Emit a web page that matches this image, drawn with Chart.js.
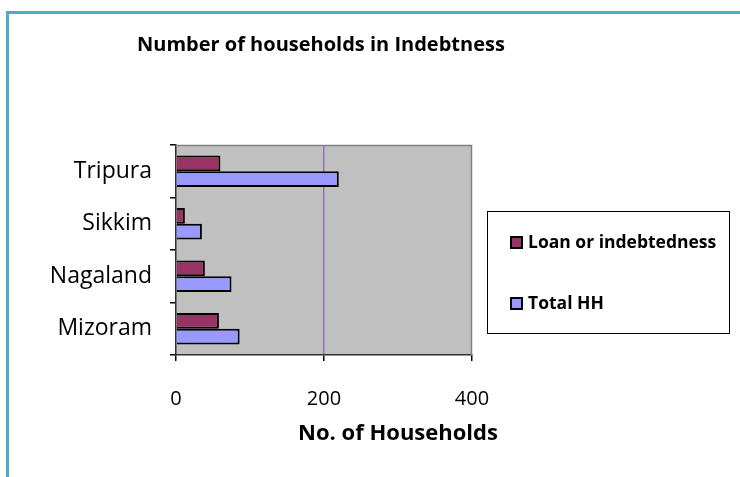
<!DOCTYPE html>
<html>
<head>
<meta charset="utf-8">
<script src="https://cdn.jsdelivr.net/npm/chart.js@4/dist/chart.umd.min.js"></script>
<style>
html,body{margin:0;padding:0;background:#fff;}
canvas{display:block;}
</style>
</head>
<body>
<canvas id="c" width="740" height="477"></canvas>
<script>
const categories = ["Tripura", "Sikkim", "Nagaland", "Mizoram"];
const loanValues = [60, 12, 39, 58];
const totalValues = [220, 35, 75, 86];
const seriesNames = ["Loan or indebtedness", "Total HH"];
const xTicks = [0, 200, 400];
const chartTitle = "Number of households in Indebtness";
const xAxisTitle = "No. of Households";

const FONT = "'Open Sans', sans-serif";

const decor = {
  id: 'decor',
  beforeDraw(chart) {
    const ctx = chart.ctx, a = chart.chartArea;
    ctx.save();
    ctx.fillStyle = '#fff';
    ctx.fillRect(0, 0, chart.width, chart.height);
    // frame
    ctx.fillStyle = '#4bacc6';
    ctx.fillRect(6, 11, 734, 3);
    ctx.fillRect(6, 11, 3, 466);
    // plot background
    ctx.fillStyle = '#c0c0c0';
    ctx.fillRect(a.left, a.top, a.right - a.left, a.bottom - a.top);
    ctx.restore();
  },
  afterDraw(chart) {
    const ctx = chart.ctx, a = chart.chartArea;
    ctx.save();
    // plot border top/right
    ctx.strokeStyle = '#808080';
    ctx.lineWidth = 1.5;
    ctx.beginPath();
    ctx.moveTo(a.left, a.top + 0.5);
    ctx.lineTo(a.right - 0.5, a.top + 0.5);
    ctx.lineTo(a.right - 0.5, a.bottom);
    ctx.stroke();
    // title
    ctx.fillStyle = '#000';
    ctx.font = "bold 20px " + FONT;
    ctx.textAlign = 'left';
    ctx.textBaseline = 'middle';
    ctx.fillText(chartTitle, 137, 45);
    // x axis title
    ctx.font = "bold 22px " + FONT;
    ctx.textAlign = 'center';
    ctx.fillText(xAxisTitle, 398, 434);
    // legend
    ctx.strokeStyle = '#000';
    ctx.lineWidth = 1;
    ctx.strokeRect(487.5, 211.5, 242, 122);
    const ys = [243, 304];
    chart.data.datasets.forEach((ds, i) => {
      ctx.fillStyle = ds.backgroundColor;
      ctx.fillRect(511, ys[i] - 6, 11, 11);
      ctx.strokeStyle = '#000';
      ctx.lineWidth = 2;
      ctx.strokeRect(511, ys[i] - 6, 11, 11);
      ctx.fillStyle = '#000';
      ctx.font = "bold 17.5px " + FONT;
      ctx.textAlign = 'left';
      ctx.fillText(ds.label, 528, ys[i]);
    });
    ctx.restore();
  }
};

new Chart(document.getElementById('c'), {
  type: 'bar',
  data: {
    labels: categories,
    datasets: [
      { label: seriesNames[0], data: loanValues, backgroundColor: '#993366', borderColor: '#000', borderWidth: 2 },
      { label: seriesNames[1], data: totalValues, backgroundColor: '#9999ff', borderColor: '#000', borderWidth: 2 }
    ]
  },
  options: {
    indexAxis: 'y',
    responsive: false,
    animation: false,
    devicePixelRatio: 1,
    categoryPercentage: 0.6,
    barPercentage: 1,
    layout: { padding: { left: 0, top: 145, right: 268, bottom: 0 } },
    plugins: { legend: { display: false }, title: { display: false }, tooltip: { enabled: false } },
    scales: {
      x: {
        min: 0, max: 400,
        afterFit(s) { s.height = 122; },
        afterBuildTicks(s) { s.ticks = xTicks.map(v => ({ value: v })); },
        ticks: { color: '#000', font: { family: FONT, size: 20 }, padding: 26 },
        grid: {
          color: ctx => (ctx.tick && ctx.tick.value === 200) ? '#9370c8' : 'rgba(0,0,0,0)',
          tickColor: '#000', tickLength: 6, lineWidth: 1.5
        },
        border: { color: '#303030', width: 1.5 }
      },
      y: {
        afterFit(s) { s.width = 176; },
        ticks: { color: '#000', font: { family: FONT, size: 23 }, padding: 18 },
        grid: { drawOnChartArea: false, tickColor: '#000', tickLength: 6, lineWidth: 1.5 },
        border: { color: '#303030', width: 1.5 }
      }
    }
  },
  plugins: [decor]
});
</script>
</body>
</html>
